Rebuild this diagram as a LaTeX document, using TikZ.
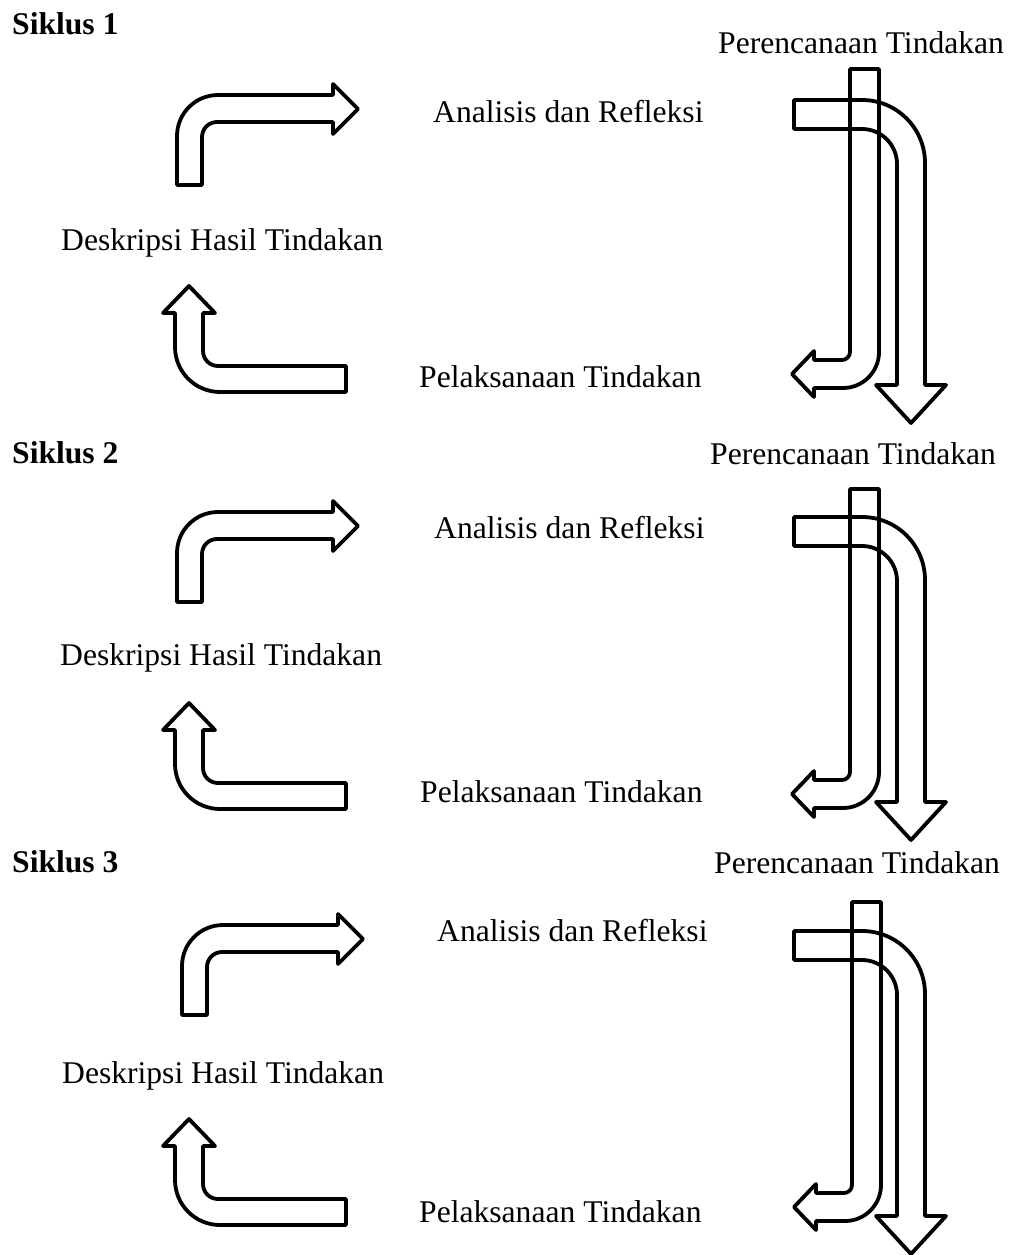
\documentclass[tikz,border=0pt]{standalone}
\usepackage{fontspec}
\setmainfont{Liberation Serif}
\begin{document}
\begin{tikzpicture}[x=1pt, y=-1pt,
  outline/.style={draw=black, line width=3.8pt, line join=round},
  lbl/.style={inner sep=0pt, anchor=base west, font=\fontsize{31.6}{38}\selectfont},
  ttl/.style={inner sep=0pt, anchor=base west, font=\fontsize{31.6}{38}\selectfont\bfseries},
  % bent arrow: up, then right
  turnright/.pic={
    \draw[outline] (177,185) -- (177,136) .. controls (177,113.4) and (195.4,95) .. (218,95)
      -- (333,95) -- (333,84) -- (358,109) -- (333,134) -- (333,122) -- (217,122)
      .. controls (208.7,122) and (202,128.7) .. (202,137) -- (202,185) -- cycle;
  },
  % bent arrow: left, then up
  turnup/.pic={
    \draw[outline] (346,392) -- (220,392) .. controls (195.2,392) and (175,371.8) .. (175,347)
      -- (175,313) -- (163,313) -- (189,286) -- (215,313) -- (203,313) -- (203,351)
      .. controls (203,359.3) and (209.7,366) .. (218,366) -- (346,366) -- cycle;
  },
  % bent arrow: right, then down
  turndown/.pic={
    \draw[outline] (794,100) -- (862,100) .. controls (896.8,100) and (925,128.2) .. (925,163)
      -- (925,385) -- (946,385) -- (911,423) -- (876,385) -- (897,385) -- (897,164)
      .. controls (897,144.7) and (881.3,129) .. (862,129) -- (794,129) -- cycle;
  },
  % bent arrow: down, then left
  turnleft/.pic={
    \draw[outline] (850,69) -- (879,69) -- (879,352) .. controls (879,371.9) and (862.9,388) .. (843,388)
      -- (814,388) -- (814,397) -- (792,374) -- (814,351) -- (814,360) -- (842,360)
      .. controls (846.4,360) and (850,356.4) .. (850,352) -- cycle;
  }]
\useasboundingbox (0,0) rectangle (1013,1255);

% ---- Siklus 1
\node[ttl] (s1) at (12,35) {Siklus 1};
\node[lbl] (plan1) at (718,53) {Perencanaan Tindakan};
\node[lbl] (ana1) at (433,122) {Analisis dan Refleksi};
\node[lbl] (desk1) at (61,250) {Deskripsi Hasil Tindakan};
\node[lbl] (pel1) at (419,387) {Pelaksanaan Tindakan};
\pic at (0,0) {turnright};
\pic at (0,0) {turnup};
\pic at (0,0) {turndown};
\pic at (0,0) {turnleft};

% ---- Siklus 2
\node[ttl] (s2) at (12,463) {Siklus 2};
\node[lbl] (plan2) at (710,464) {Perencanaan Tindakan};
\node[lbl] (ana2) at (434,538) {Analisis dan Refleksi};
\node[lbl] (desk2) at (60,665) {Deskripsi Hasil Tindakan};
\node[lbl] (pel2) at (420,802) {Pelaksanaan Tindakan};
\pic at (0,417) {turnright};
\pic at (0,417) {turnup};
\pic at (0,417) {turndown};
\pic at (0,420) {turnleft};

% ---- Siklus 3
\node[ttl] (s3) at (12,872) {Siklus 3};
\node[lbl] (plan3) at (714,873) {Perencanaan Tindakan};
\node[lbl] (ana3) at (437,941) {Analisis dan Refleksi};
\node[lbl] (desk3) at (62,1083) {Deskripsi Hasil Tindakan};
\node[lbl] (pel3) at (419,1222) {Pelaksanaan Tindakan};
\pic at (5,830) {turnright};
\pic at (0,833) {turnup};
\pic at (0,831) {turndown};
\pic at (2,833) {turnleft};
\end{tikzpicture}
\end{document}
